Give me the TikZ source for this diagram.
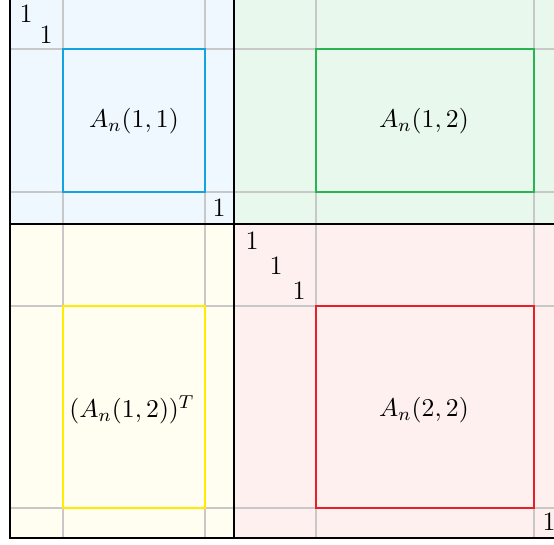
\documentclass[tikz,border=0pt]{standalone}
\usepackage{amsmath,amssymb}
\usepackage{xcolor}
\usepackage{tikz}
\definecolor{gridgray}{RGB}{200, 200, 200}
\definecolor{blockblue}{RGB}{240, 248, 255}
\definecolor{blockgreen}{RGB}{232, 248, 236}
\definecolor{blockyellow}{RGB}{255, 254, 240}
\definecolor{blockred}{RGB}{255, 240, 240}
\definecolor{boxblue}{RGB}{20, 163, 224}
\definecolor{boxgreen}{RGB}{40, 180, 80}
\definecolor{boxyellow}{RGB}{255, 236, 0}
\definecolor{boxred}{RGB}{232, 30, 40}

\begin{document}
\begin{tikzpicture}[
    x=0.015cm, y=-0.015cm,
    every node/.style={font=\fontsize{11.3}{13}\selectfont},
    gridline/.style={draw=gridgray, line width=1pt},
    blockline/.style={draw=black, line width=1pt},
    subblock/.style={line width=1pt},
    unit/.style={inner sep=0pt}
]
\useasboundingbox (0,0) rectangle (554,544);

% Block backgrounds
\fill[blockblue] (10,0) rectangle (234,224);
\fill[blockgreen] (234,0) rectangle (554,224);
\fill[blockyellow] (10,224) rectangle (234,538);
\fill[blockred] (234,224) rectangle (554,538);

% Grid
\foreach \x in {63,205,316,534}
    \draw[gridline] (\x,0) -- (\x,538);
\foreach \y in {49,192,306,508}
    \draw[gridline] (10,\y) -- (554,\y);

% Block borders
\draw[blockline] (10,0) -- (10,538) -- (554,538);
\draw[blockline] (234,0) -- (234,538);
\draw[blockline] (10,224) -- (554,224);

% Sub-blocks
\draw[subblock, boxblue] (63,49) rectangle (205,192);
\draw[subblock, boxgreen] (316,49) rectangle (534,192);
\draw[subblock, boxyellow] (63,306) rectangle (205,508);
\draw[subblock, boxred] (316,306) rectangle (534,508);

\node (a11) at (134,121) {$A_n(1,1)$};
\node (a12) at (424,121) {$A_n(1,2)$};
\node (a12t) at (132,410) {$(A_n(1,2))^T$};
\node (a22) at (424,410) {$A_n(2,2)$};

% Identity entries
\node[unit] (one1) at (26,14) {1};
\node[unit] (one2) at (46,35) {1};
\node[unit] (one3) at (219,208) {1};
\node[unit] (one4) at (252,241) {1};
\node[unit] (one5) at (276,266) {1};
\node[unit] (one6) at (299,291) {1};
\node[unit] (one7) at (549,522) {1};
\end{tikzpicture}
\end{document}
